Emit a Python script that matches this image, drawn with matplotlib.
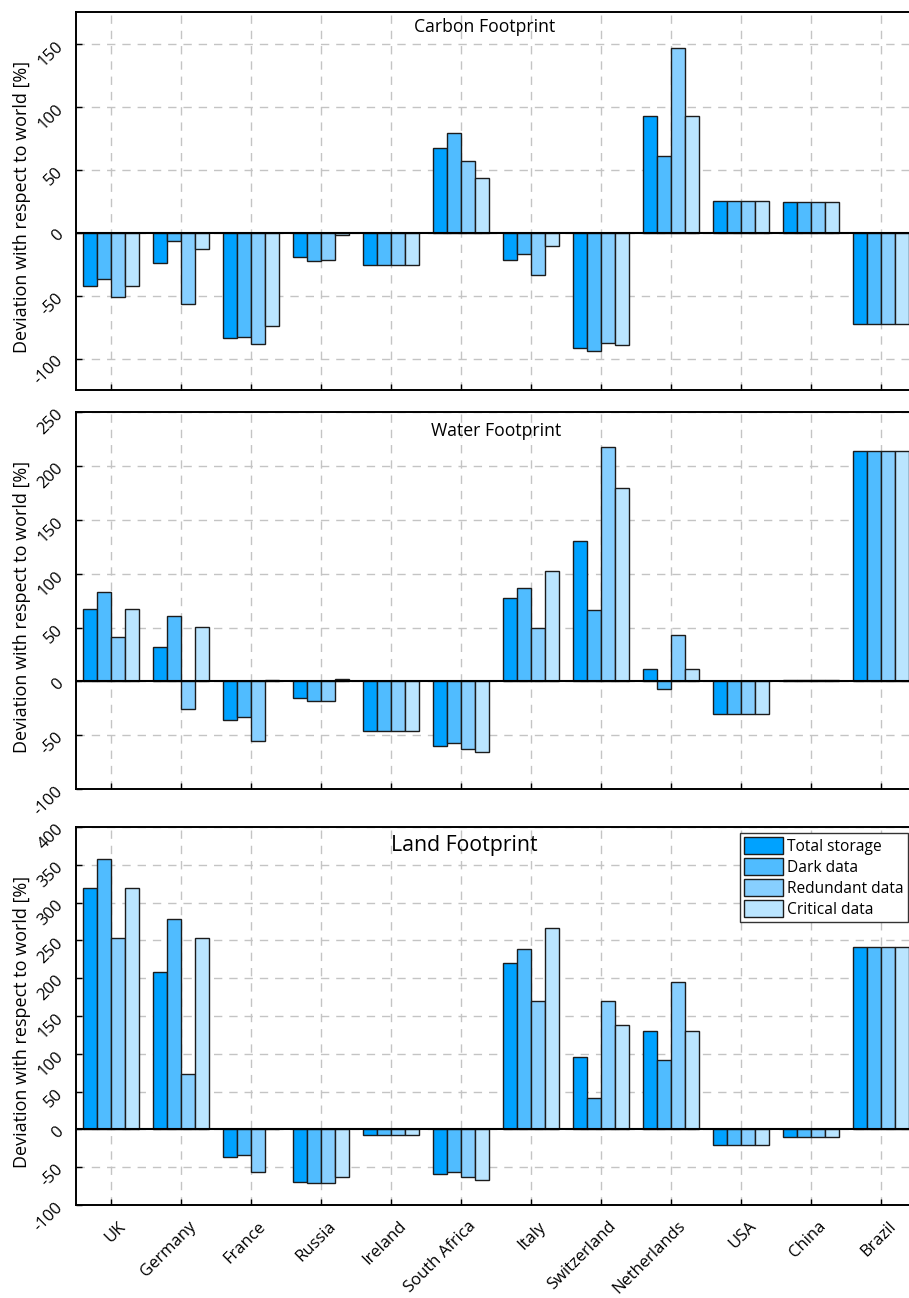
import matplotlib
matplotlib.use("Agg")
import matplotlib.pyplot as plt
import matplotlib.transforms as mtransforms
import numpy as np

plt.rcParams["font.family"] = ["Open Sans", "DejaVu Sans"]
plt.rcParams["axes.unicode_minus"] = False

countries = ["UK", "Germany", "France", "Russia", "Ireland", "South Africa",
             "Italy", "Switzerland", "Netherlands", "USA", "China", "Brazil"]
series = ["Total storage", "Dark data", "Redundant data", "Critical data"]
colors = ["#00A2FF", "#50BCFF", "#87CFFF", "#BAE5FF"]

# values per series, in country order
carbon_total     = [-42.5, -24, -83.8, -19.3, -26, 66.8, -22, -91.4, 92.4, 25.4, 24.6, -72.4]
carbon_dark      = [-37, -6.6, -83.2, -22.2, -26, 79.2, -17.4, -93.8, 60.5, 25.4, 24.6, -72.4]
carbon_redundant = [-51.5, -56.8, -88.8, -21.4, -26, 56.5, -34, -88, 146.6, 25.4, 24.6, -72.4]
carbon_critical  = [-42.5, -13, -74.5, -2, -26, 43, -10.9, -89.5, 92.4, 25.4, 24.6, -72.4]

water_total     = [67.4, 31.8, -35.6, -15.5, -45.8, -60.3, 77, 130.5, 11.7, -30.6, 1.2, 213.7]
water_dark      = [82.8, 60.9, -33.1, -18.6, -45.8, -56.9, 86.6, 66.5, -7.1, -30.6, 1.2, 213.7]
water_redundant = [41.1, -26, -55.7, -18.2, -45.8, -62.5, 49.5, 217.4, 43, -30.6, 1.2, 213.7]
water_critical  = [67.4, 50.7, 1.5, 2.5, -45.8, -65.5, 102.3, 180, 11.7, -30.6, 1.2, 213.7]

land_total     = [319.5, 208.5, -35.8, -69.9, -7.5, -59.3, 220.5, 96.3, 130.3, -20.4, -10.6, 240.8]
land_dark      = [358, 277.9, -33.2, -71.2, -7.5, -56.6, 238.6, 41.5, 92.3, -20.4, -10.6, 240.8]
land_redundant = [253.6, 73.3, -56.2, -70.7, -7.5, -62.8, 170, 170, 195.3, -20.4, -10.6, 240.8]
land_critical  = [319.5, 253.2, 1, -62.8, -7.5, -66.3, 266.5, 138.7, 130.3, -20.4, -10.6, 240.8]

panels = [
    ("Carbon Footprint", [carbon_total, carbon_dark, carbon_redundant, carbon_critical],
     (-125, 175), np.arange(-100, 151, 50), (0.487, 0.960), 12.7),
    ("Water Footprint", [water_total, water_dark, water_redundant, water_critical],
     (-100, 250), np.arange(-100, 251, 50), (0.500, 0.950), 12.7),
    ("Land Footprint", [land_total, land_dark, land_redundant, land_critical],
     (-100, 400), np.arange(-100, 401, 50), (0.462, 0.952), 15.3),
]
# axes boxes in figure fraction: left, bottom, width, height
boxes = [(0.0836, 0.6995, 0.9241, 0.2912),
         (0.0836, 0.3921, 0.9241, 0.2904),
         (0.0836, 0.0716, 0.9241, 0.2912)]

fig = plt.figure(figsize=(9.09, 12.98), dpi=100)
x = np.arange(len(countries))
width = 0.2

for i, (title, vals, ylim, yticks, tpos, tsize) in enumerate(panels):
    ax = fig.add_axes(boxes[i])
    for j, (v, c, name) in enumerate(zip(vals, colors, series)):
        ax.bar(x + (j - 1.5) * width, v, width, color=c, edgecolor="#1c1c1c",
               linewidth=1.0, label=name, zorder=3)
    ax.axhline(0, color="black", lw=1.5, zorder=4)
    ax.set_xlim(-0.5, len(countries) - 0.5)
    ax.set_ylim(*ylim)
    ax.tick_params(direction="in", length=4, width=1)
    ax.tick_params(axis="x", pad=6)
    ax.tick_params(axis="y", pad=11)
    ax.set_yticks(yticks)
    ax.set_yticklabels([str(t) for t in yticks], rotation=45, fontsize=12,
                       va="center", ha="right", rotation_mode="anchor")
    ax.set_xticks(x)
    if i == 2:
        ax.set_xticklabels(countries, rotation=45, ha="right", rotation_mode="anchor",
                           fontsize=12)
        # nudge the slanted country names a little right and down
        shift = mtransforms.ScaledTranslation(7 / 100, -5 / 100, fig.dpi_scale_trans)
        for lab in ax.get_xticklabels():
            lab.set_transform(lab.get_transform() + shift)
    else:
        ax.set_xticklabels([])
    ax.grid(True, color="#c4c4c4", linestyle=(0, (6, 5)), lw=1.0, zorder=0)
    for s in ["left", "top", "bottom"]:
        ax.spines[s].set_linewidth(1.4)
    ax.spines["right"].set_visible(False)
    ax.set_ylabel("Deviation with respect to world [%]", fontsize=13)
    ax.yaxis.set_label_coords(-0.054, 0.484)
    ax.text(tpos[0], tpos[1], title, transform=ax.transAxes, ha="center",
            va="center", fontsize=tsize)
    if i == 2:
        ax.legend(loc="upper right", bbox_to_anchor=(908 / 909, 1 - 833 / 1298),
                  bbox_transform=fig.transFigure, borderaxespad=0, fontsize=11.2,
                  handlelength=2.5, handleheight=1.3, labelspacing=0.22,
                  handletextpad=0.3, borderpad=0.25, fancybox=False,
                  edgecolor="#333333", framealpha=1)

fig.savefig("out.png", dpi=100)
